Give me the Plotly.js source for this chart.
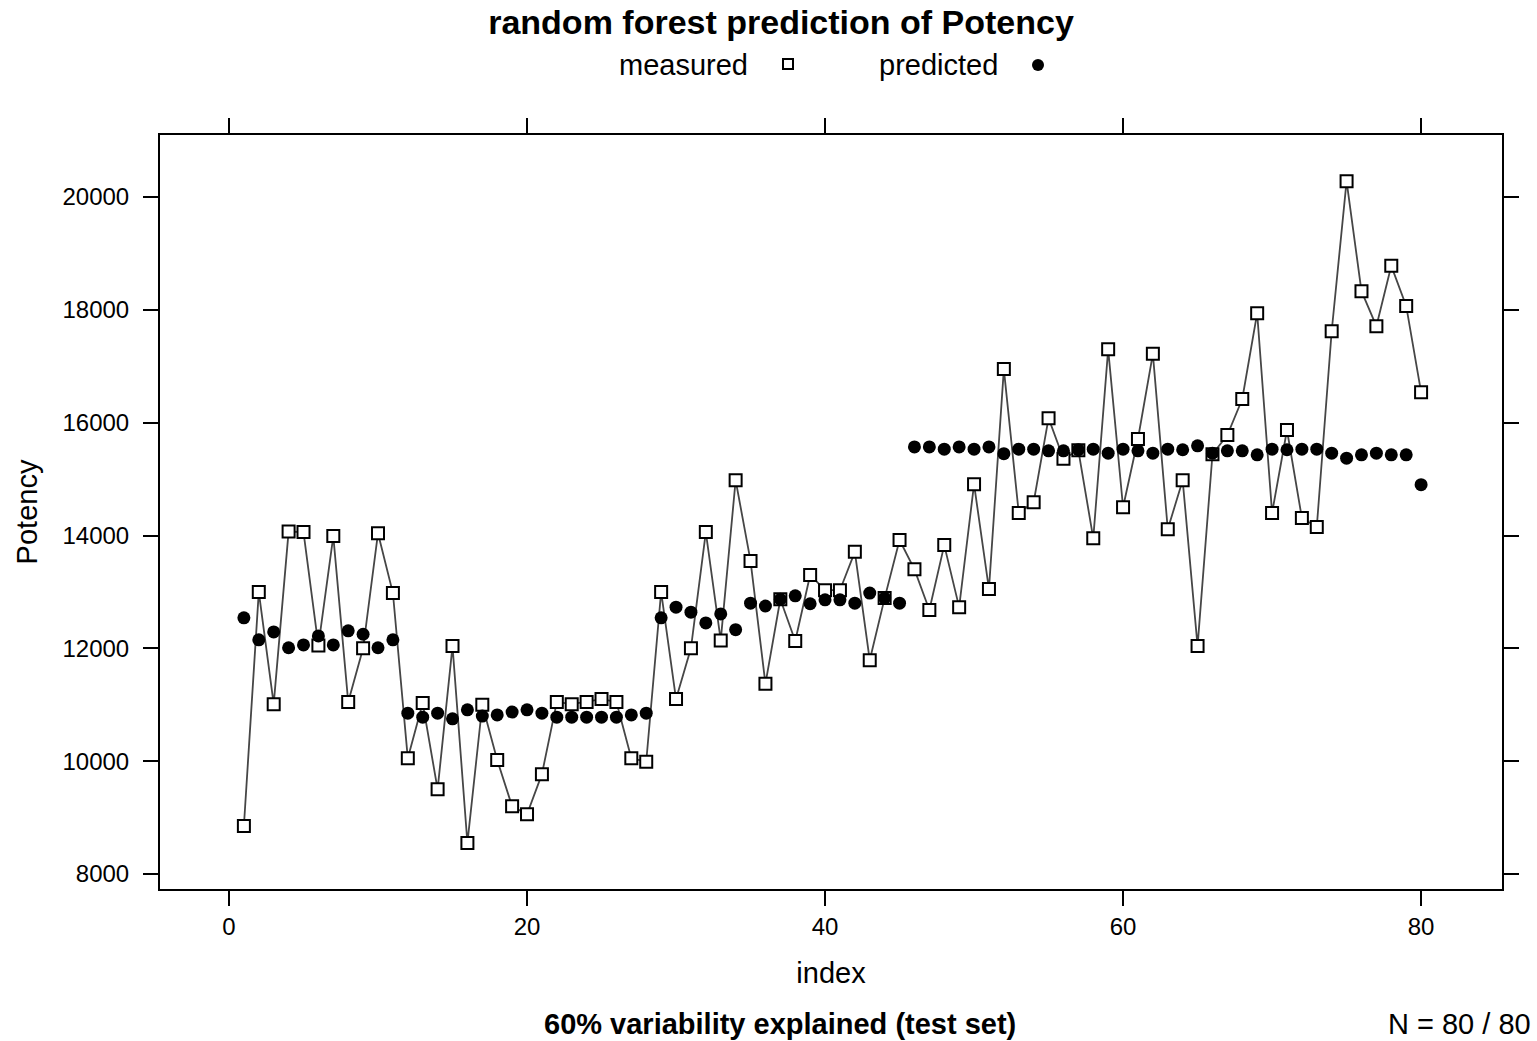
<!DOCTYPE html>
<html>
<head>
<meta charset="utf-8">
<script src="https://cdn.plot.ly/plotly-3.0.1.min.js"></script>
<style>html,body{margin:0;padding:0;background:#fff;}#chart{width:1537px;height:1041px;}</style>
</head>
<body>
<div id="chart"></div>
<script>
// index of test-set observations
const idx = Array.from({length: 80}, (_, i) => i + 1);

// measured Potency
const measured = [
  8850, 13000, 11010, 14070, 14060, 12050, 13990, 11050, 12000, 14040,
  12980, 10050, 11030, 9500, 12040, 8550, 11000, 10020, 9200, 9060,
  9770, 11050, 11010, 11050, 11100, 11050, 10050, 9990, 13000, 11100,
  12000, 14060, 12140, 14980, 13550, 11370, 12870, 12130, 13300, 13030,
  13030, 13710, 11790, 12890, 13920, 13400, 12680, 13830, 12730, 14910,
  13050, 16950, 14400, 14590, 16080, 15360, 15510, 13950, 17300, 14500,
  15710, 17220, 14110, 14980, 12040, 15440, 15780, 16420, 17940, 14400,
  15870, 14310, 14150, 17620, 20280, 18330, 17710, 18780, 18070, 16540
];

// random forest predicted Potency
const predicted = [
  12540, 12150, 12290, 12010, 12060, 12220, 12060, 12310, 12250, 12010,
  12150, 10850, 10780, 10850, 10750, 10910, 10800, 10820, 10870, 10910,
  10850, 10780, 10780, 10780, 10780, 10780, 10820, 10850, 12540, 12730,
  12640, 12450, 12610, 12330, 12800, 12750, 12870, 12930, 12790, 12860,
  12860, 12800, 12980, 12890, 12800, 15570, 15570, 15530, 15570, 15530,
  15570, 15450, 15530, 15530, 15500, 15500, 15520, 15530, 15460, 15530,
  15500, 15460, 15530, 15520, 15590, 15460, 15500, 15500, 15430, 15530,
  15520, 15530, 15530, 15460, 15370, 15430, 15460, 15430, 15430, 14900
];

const xTicks = [0, 20, 40, 60, 80];
const yTicks = [8000, 10000, 12000, 14000, 16000, 18000, 20000];

const FONT = 'Liberation Sans, Arial, Helvetica, sans-serif';

// plot frame in page pixels, used to place the free texts
const L = 160, R = 1502, T = 135, B = 889;
const px = x => (x - L) / (R - L);
const py = y => (B - y) / (B - T);

const traces = [
  {
    x: idx, y: measured, type: 'scatter', mode: 'lines+markers', name: 'measured',
    line: {color: 'rgb(70,70,70)', width: 1.8},
    marker: {symbol: 'square', size: 12, color: '#ffffff', line: {color: '#000000', width: 2}},
    showlegend: false, hoverinfo: 'x+y'
  },
  {
    x: idx, y: predicted, type: 'scatter', mode: 'markers', name: 'predicted',
    marker: {symbol: 'circle', size: 13, color: '#000000', line: {width: 0}},
    showlegend: false, hoverinfo: 'x+y'
  }
];

const layout = {
  width: 1537, height: 1041,
  paper_bgcolor: '#ffffff', plot_bgcolor: '#ffffff',
  margin: {l: L, r: 1537 - R, t: T, b: 1041 - B, pad: 0},
  font: {family: FONT, color: '#000000', size: 24},
  title: {
    text: '<b>random forest prediction of Potency</b>',
    font: {family: FONT, size: 34, color: '#000000'},
    xref: 'container', yref: 'container',
    x: 781 / 1537, y: 1 - 22 / 1041, xanchor: 'center', yanchor: 'middle'
  },
  xaxis: {
    range: [-4.63, 85.43], tickvals: xTicks, ticktext: xTicks.map(String),
    showgrid: false, zeroline: false,
    showline: true, linecolor: '#000000', linewidth: 2, mirror: 'ticks',
    ticks: 'outside', ticklen: 15, tickwidth: 2, tickcolor: '#000000',
    tickfont: {family: FONT, size: 24, color: '#000000'},
    title: {text: 'index', font: {family: FONT, size: 29, color: '#000000'}, standoff: 24}
  },
  yaxis: {
    range: [7734, 21099], tickvals: yTicks, ticktext: yTicks.map(String),
    showgrid: false, zeroline: false,
    showline: true, linecolor: '#000000', linewidth: 2, mirror: 'ticks',
    ticks: 'outside', ticklen: 15, tickwidth: 2, tickcolor: '#000000',
    ticklabelstandoff: 9,
    tickfont: {family: FONT, size: 24, color: '#000000'},
    title: {text: 'Potency', font: {family: FONT, size: 29, color: '#000000'}, standoff: 16}
  },
  annotations: [
    {text: 'measured', xref: 'paper', yref: 'paper', x: px(683), y: py(65),
     xanchor: 'center', yanchor: 'middle', showarrow: false,
     font: {family: FONT, size: 29, color: '#000000'}},
    {text: 'predicted', xref: 'paper', yref: 'paper', x: px(938), y: py(65),
     xanchor: 'center', yanchor: 'middle', showarrow: false,
     font: {family: FONT, size: 29, color: '#000000'}},
    {text: '<b>60% variability explained (test set)</b>', xref: 'paper', yref: 'paper',
     x: px(780), y: py(1024), xanchor: 'center', yanchor: 'middle', showarrow: false,
     font: {family: FONT, size: 29, color: '#000000'}},
    {text: 'N = 80 / 80', xref: 'paper', yref: 'paper',
     x: px(1533), y: py(1024), xanchor: 'right', yanchor: 'middle', showarrow: false,
     font: {family: FONT, size: 29, color: '#000000'}}
  ],
  shapes: [
    {type: 'rect', xref: 'paper', yref: 'paper', xsizemode: 'pixel', ysizemode: 'pixel',
     xanchor: px(788), yanchor: py(64), x0: -5, x1: 5, y0: -5, y1: 5,
     line: {color: '#000000', width: 2}, fillcolor: '#ffffff'},
    {type: 'circle', xref: 'paper', yref: 'paper', xsizemode: 'pixel', ysizemode: 'pixel',
     xanchor: px(1038), yanchor: py(65), x0: -6, x1: 6, y0: -6, y1: 6,
     line: {color: '#000000', width: 0}, fillcolor: '#000000'}
  ],
  showlegend: false
};

Plotly.newPlot('chart', traces, layout, {displayModeBar: false, staticPlot: true});
</script>
</body>
</html>
